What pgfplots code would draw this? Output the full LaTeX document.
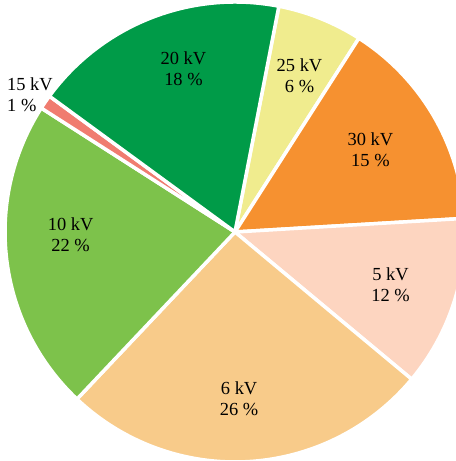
\documentclass[border=0pt]{standalone}
\usepackage{pgfplots}
\usepackage{pgfplotstable}
\pgfplotsset{compat=1.18}
\usepackage{fontspec}
\setmainfont{Liberation Serif}

\definecolor{c20}{RGB}{0,155,72}
\definecolor{c25}{RGB}{240,236,142}
\definecolor{c30}{RGB}{246,145,48}
\definecolor{c5}{RGB}{253,213,192}
\definecolor{c6}{RGB}{248,203,138}
\definecolor{c10}{RGB}{125,194,75}
\definecolor{c15}{RGB}{240,124,112}

% share in percent, clockwise from the 20/25 kV boundary
\pgfplotstableread{
value color
6  c25
15 c30
12 c5
26 c6
22 c10
1  c15
18 c20
}\piedata

\def\R{230bp}
\tikzset{lbl/.style={font=\fontsize{18.5}{21}\selectfont, align=center, inner sep=0pt, text=black}}

\begin{document}
\begin{tikzpicture}
\pgfplotstablegetrowsof{\piedata}
\pgfmathtruncatemacro\nrows{\pgfplotsretval-1}
\gdef\slices{}
\gdef\cum{79}
\foreach \i in {0,...,\nrows}{
  \pgfplotstablegetelem{\i}{value}\of\piedata
  \let\sv\pgfplotsretval
  \pgfplotstablegetelem{\i}{color}\of\piedata
  \let\sc\pgfplotsretval
  \pgfmathsetmacro\b{\cum-3.6*\sv}
  \xdef\slices{\unexpanded\expandafter{\slices}\noexpand\fill[fill=\sc,draw=white,line width=3.5bp,line join=round]
    (axis cs:0,0) -- ++(\cum:\noexpand\R) arc[start angle=\cum,end angle=\b,radius=\noexpand\R] -- cycle;}
  \xdef\cum{\b}
}
\begin{axis}[
    scale only axis,
    width=456bp, height=461bp,
    xmin=-1.0307, xmax=0.9693,
    ymin=-1.0044, ymax=1.0175,
    hide axis,
    clip=true,
]
\slices
\node[lbl] at (axis cs:-0.226,0.715) {20 kV\\18 \%};
\node[lbl] at (axis cs:0.283,0.684) {25 kV\\6 \%};
\node[lbl] at (axis cs:0.594,0.362) {30 kV\\15 \%};
\node[lbl] at (axis cs:0.682,-0.232) {5 kV\\12 \%};
\node[lbl] at (axis cs:0.018,-0.732) {6 kV\\26 \%};
\node[lbl] at (axis cs:-0.721,-0.013) {10 kV\\22 \%};
\node[lbl, align=left, anchor=west] at (axis cs:-1.0,0.603) {15 kV\\1 \%};
\end{axis}
\pgfresetboundingbox
\path (current axis.south west) rectangle (current axis.north east);
\end{tikzpicture}
\end{document}
